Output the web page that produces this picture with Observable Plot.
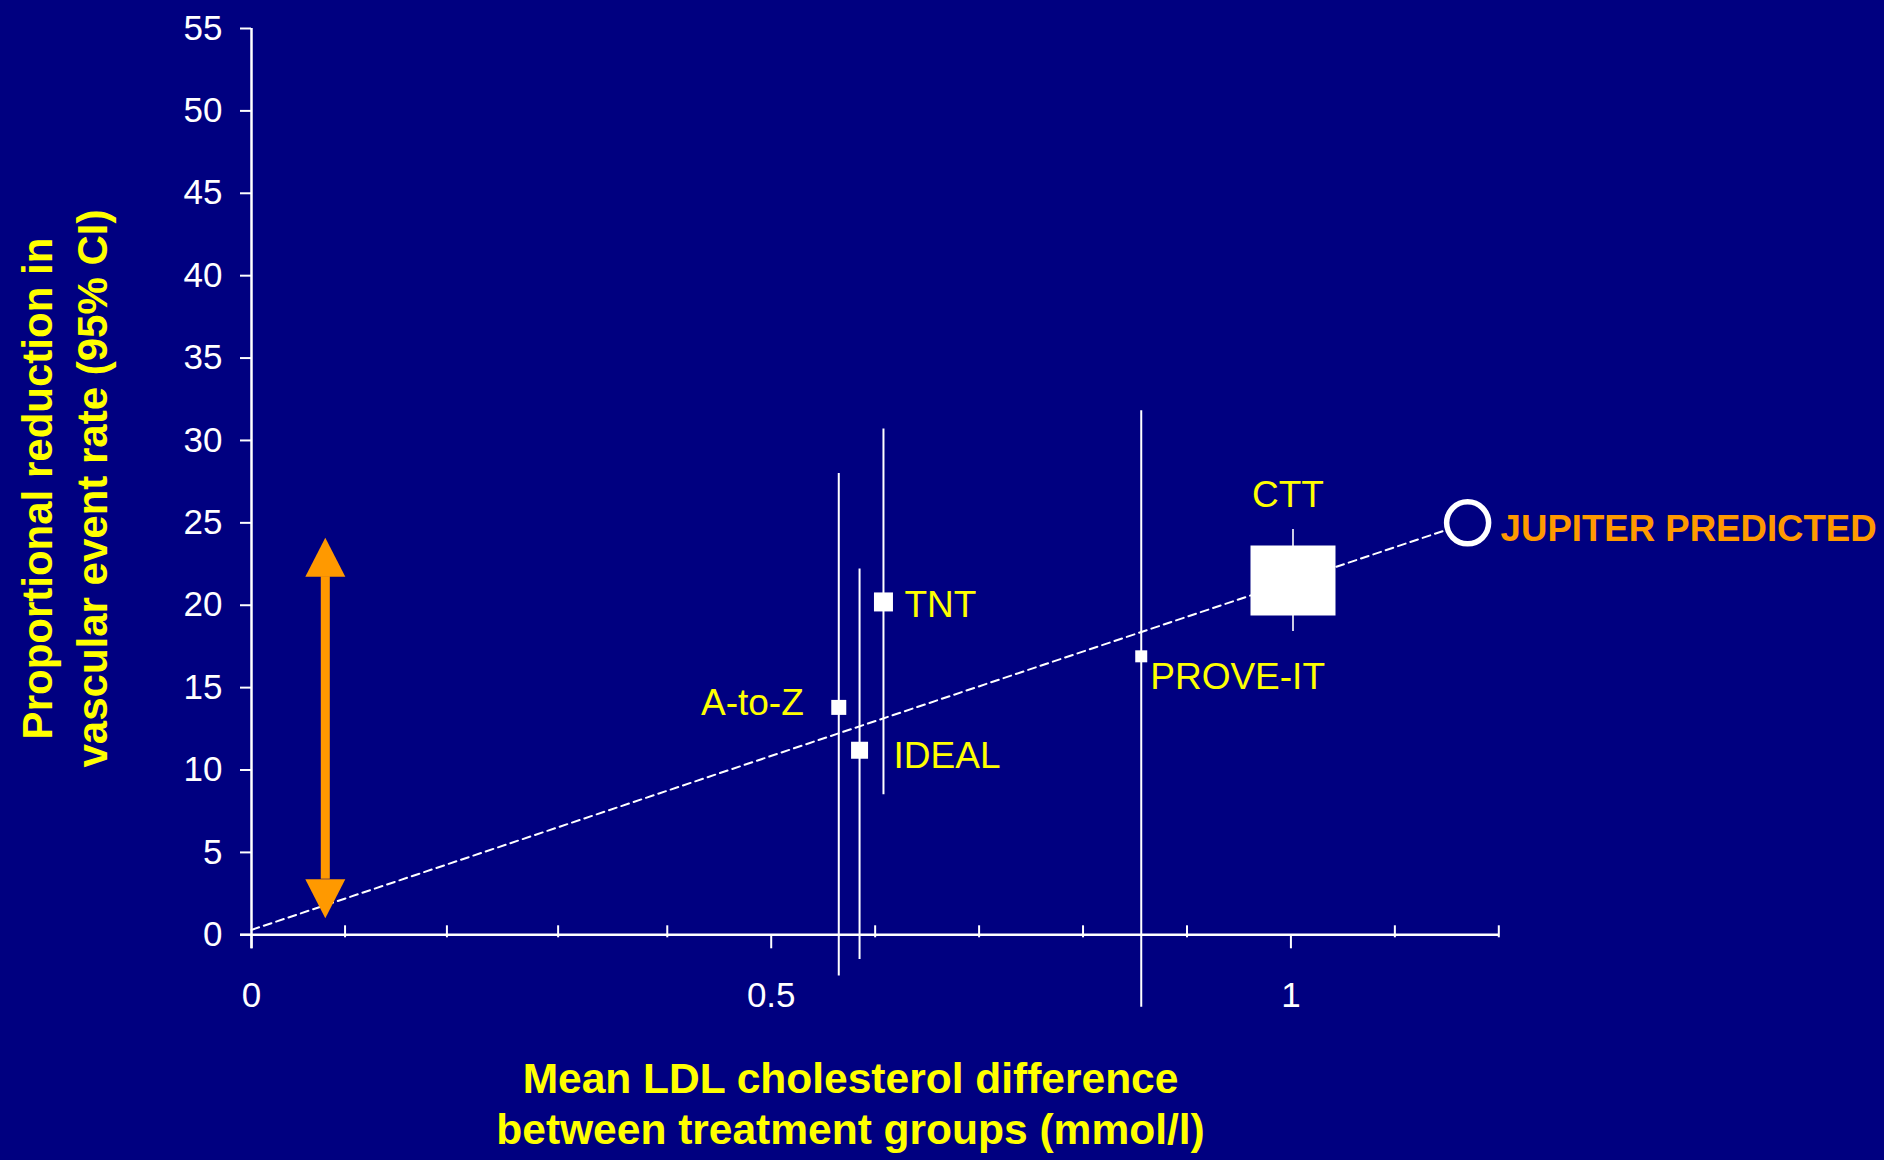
<!DOCTYPE html>
<html>
<head>
<meta charset="utf-8">
<script src="https://cdn.jsdelivr.net/npm/d3@7"></script>
<script src="https://cdn.jsdelivr.net/npm/@observablehq/plot@0.6"></script>
<style>
  html, body { margin: 0; padding: 0; background: #000080; }
  #chart svg { display: block; }
</style>
</head>
<body>
<div id="chart"></div>
<script>
// ---- data ----
const trialNames = ["A-to-Z", "IDEAL", "TNT", "PROVE-IT", "CTT"];
const ldlDiff    = [0.565, 0.585, 0.608, 0.856, 1.002];  // mmol/l
const reduction  = [13.8, 11.2, 20.2, 16.9, 21.5];        // % reduction
const ciLow      = [-2.5, -1.5, 8.5, -4.4, 18.4];
const ciHigh     = [28.0, 22.2, 30.7, 31.8, 24.6];

const jupiterName      = ["JUPITER PREDICTED"];
const jupiterLdl       = [1.17];
const jupiterReduction = [25];

const fitLdl       = [0, 1.17];
const fitReduction = [0.3, 25];

const rangeArrowLdl  = [0.071];
const rangeArrowLow  = [1.0];
const rangeArrowHigh = [24.1];

const yTicks       = [0, 5, 10, 15, 20, 25, 30, 35, 40, 45, 50, 55];
const xMajorTicks  = [0, 0.5, 1];
const xMinorTicks  = [0.09, 0.188, 0.295, 0.4, 0.6, 0.7, 0.8, 0.9, 1.1, 1.2];

const yTitle = ["Proportional reduction in", "vascular event rate (95% CI)"];
const xTitle = ["Mean LDL cholesterol difference", "between treatment groups (mmol/l)"];

// ---- tables built from the arrays ----
const trials = trialNames.map((name, i) => ({name, ldl: ldlDiff[i], rr: reduction[i], lo: ciLow[i], hi: ciHigh[i]}));
const jupiter = jupiterName.map((name, i) => ({name, ldl: jupiterLdl[i], rr: jupiterReduction[i]}));
const fit = fitLdl.map((x, i) => ({x, y: fitReduction[i]}));
const rangeArrow = rangeArrowLdl.map((x, i) => ({x, lo: rangeArrowLow[i], hi: rangeArrowHigh[i]}));

// ---- styles ----
const NAVY = "#000080", YELLOW = "#ffff00", ORANGE = "#ff9900", WHITE = "#ffffff";
const FONT = "'Liberation Sans', Arial, Helvetica, sans-serif";

const boxSize = {"A-to-Z": [15, 15], "IDEAL": [17, 17], "TNT": [19, 19], "PROVE-IT": [12, 12], "CTT": [85, 70]};
const labelStyle = {
  "A-to-Z":   {dx: -35, dy: 7.6,  textAnchor: "end"},
  "IDEAL":    {dx: 34,  dy: 17.6, textAnchor: "start"},
  "TNT":      {dx: 21,  dy: 15.3, textAnchor: "start"},
  "PROVE-IT": {dx: 9,   dy: 32.7, textAnchor: "start"},
  "CTT":      {dx: -5,  dy: -74,  textAnchor: "middle"}
};

const rectSymbol = (w, h) => ({draw(ctx) { ctx.rect(-w / 2, -h / 2, w, h); }});
const triSymbol = (w, h, dir) => ({draw(ctx) {
  ctx.moveTo(0, 0); ctx.lineTo(w / 2, dir * h); ctx.lineTo(-w / 2, dir * h); ctx.closePath();
}});

const chart = Plot.plot({
  width: 1884,
  height: 1160,
  marginLeft: 251,
  marginRight: 385.7,
  marginTop: 28,
  marginBottom: 225.7,
  x: {domain: [0, 1.2], axis: null, label: null},
  y: {domain: [0, 55], axis: null, label: null},
  style: {background: NAVY, fontFamily: FONT, color: WHITE, overflow: "visible"},
  marks: [
    // axis lines
    Plot.ruleX([0], {stroke: WHITE, strokeWidth: 2.5, insetBottom: -14}),
    Plot.ruleY([0], {stroke: WHITE, strokeWidth: 2.5, insetLeft: -11}),
    // y ticks and labels
    Plot.axisY(yTicks, {tickSize: 11, tickPadding: 18, fontSize: 35, strokeWidth: 2, label: null, tickFormat: d => String(d)}),
    // x major ticks and labels
    Plot.axisX(xMajorTicks, {tickSize: 14, tickPadding: 33.4, fontSize: 35, strokeWidth: 2, label: null, tickFormat: d => String(d)}),
    // x minor ticks
    Plot.ruleX(xMinorTicks, {x: d => d, y1: () => 0, y2: () => 0, insetTop: -9, insetBottom: -3, stroke: WHITE, strokeWidth: 2}),
    // dashed fit line
    Plot.line(fit, {x: "x", y: "y", stroke: WHITE, strokeWidth: 2, strokeDasharray: "8,5"}),
    // confidence intervals
    Plot.ruleX(trials, {x: "ldl", y1: "lo", y2: "hi", stroke: WHITE, strokeWidth: d => d.name === "CTT" ? 1.6 : 2}),
    // boxes
    ...trials.map(t => Plot.dot([t], {x: "ldl", y: "rr", symbol: rectSymbol(...boxSize[t.name]), fill: WHITE, stroke: "none"})),
    // JUPITER predicted circle
    Plot.dot(jupiter, {x: "ldl", y: "rr", r: 21, fill: NAVY, stroke: WHITE, strokeWidth: 5.5}),
    // orange double arrow
    Plot.ruleX(rangeArrow, {x: "x", y1: "hi", y2: "lo", insetTop: 39, insetBottom: 39, stroke: ORANGE, strokeWidth: 9}),
    Plot.dot(rangeArrow, {x: "x", y: "hi", symbol: triSymbol(40, 39, 1), fill: ORANGE, stroke: "none"}),
    Plot.dot(rangeArrow, {x: "x", y: "lo", symbol: triSymbol(40, 39, -1), fill: ORANGE, stroke: "none"}),
    // trial labels
    ...trials.map(t => Plot.text([t], {x: "ldl", y: "rr", text: "name", fill: YELLOW, fontSize: 37, lineAnchor: "bottom", ...labelStyle[t.name]})),
    Plot.text(jupiter, {x: "ldl", y: "rr", text: "name", fill: ORANGE, fontSize: 36.6, fontWeight: "bold", textAnchor: "start", lineAnchor: "bottom", dx: 33, dy: 18.5}),
    // axis titles
    Plot.text([yTitle[0]], {frameAnchor: "left", text: d => d, rotate: -90, fontSize: 42, fontWeight: "bold", fill: YELLOW, textAnchor: "middle", lineAnchor: "bottom", dx: -199.3, dy: 6.9}),
    Plot.text([yTitle[1]], {frameAnchor: "left", text: d => d, rotate: -90, fontSize: 42, fontWeight: "bold", fill: YELLOW, textAnchor: "middle", lineAnchor: "bottom", dx: -145, dy: 6.9}),
    Plot.text([xTitle[0]], {frameAnchor: "bottom", text: d => d, fontSize: 42.5, fontWeight: "bold", fill: YELLOW, textAnchor: "middle", lineAnchor: "bottom", dx: -24.65, dy: 158.4}),
    Plot.text([xTitle[1]], {frameAnchor: "bottom", text: d => d, fontSize: 42.5, fontWeight: "bold", fill: YELLOW, textAnchor: "middle", lineAnchor: "bottom", dx: -24.65, dy: 209.2})
  ]
});

document.getElementById("chart").appendChild(chart);
</script>
</body>
</html>
